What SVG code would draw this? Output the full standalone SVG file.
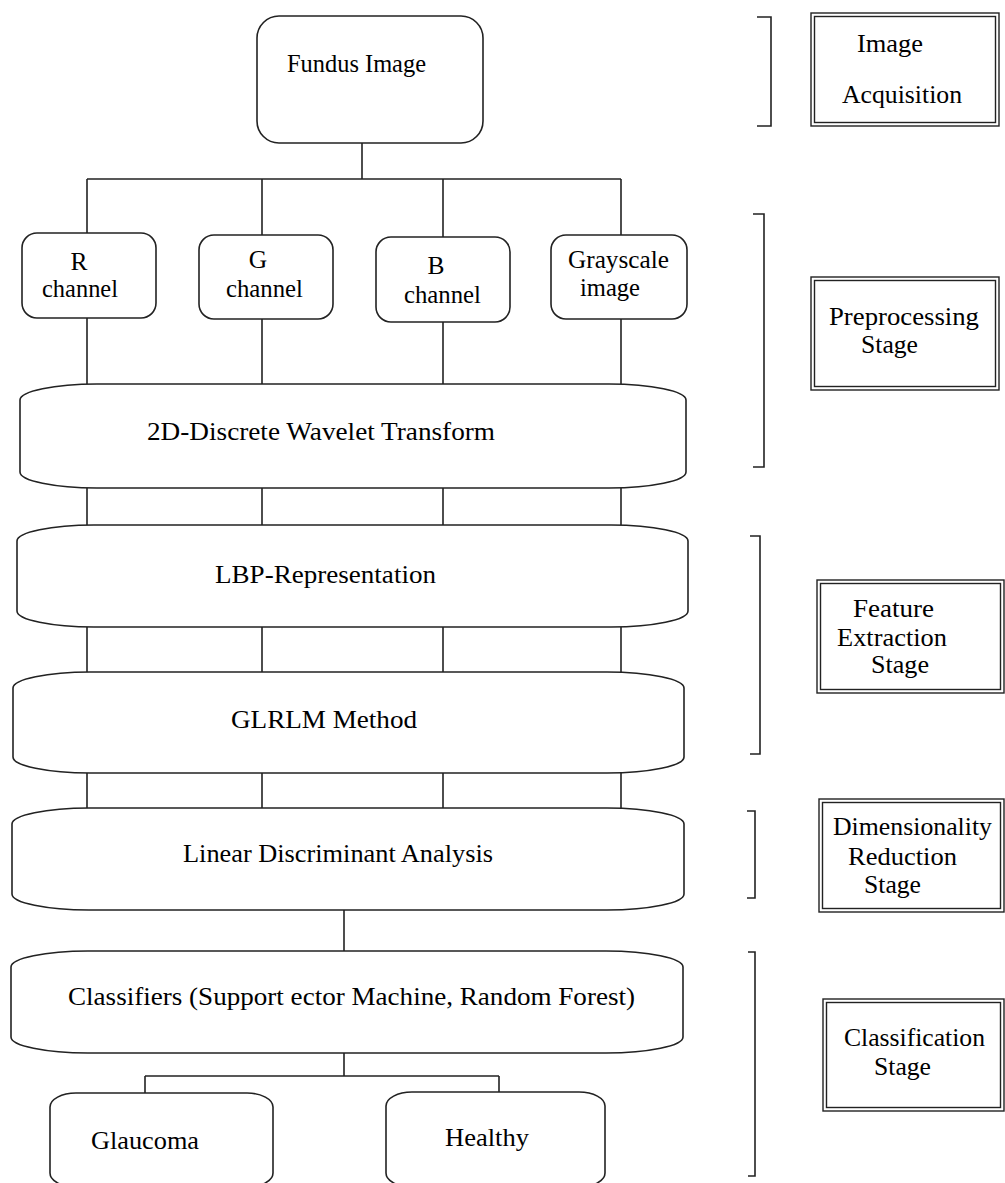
<svg xmlns="http://www.w3.org/2000/svg" width="1005" height="1183" viewBox="0 0 1005 1183">
  <style>
    .box { fill: #ffffff; stroke: #222222; stroke-width: 1.6; }
    .frame { fill: none; stroke: #222222; stroke-width: 1.4; }
    .wire { fill: none; stroke: #222222; stroke-width: 1.6; }
    .lbl { font-family: "Liberation Serif", "Times New Roman", serif; font-size: 25.5px; fill: #000000; }
    .mid { text-anchor: middle; }
  </style>

  <!-- connectors -->
  <g id="connectors" class="wire">
    <path d="M362 143 V179 M87 179 H621 M87 179 V233 M262 179 V235 M443 179 V237 M621 179 V235"/>
    <path d="M87 318 V384 M262 319 V384 M443 322 V384 M621 319 V384"/>
    <path d="M87 488 V525 M262 488 V525 M443 488 V525 M621 488 V525"/>
    <path d="M87 627 V672 M262 627 V672 M443 627 V672 M621 627 V672"/>
    <path d="M87 773 V808 M262 773 V808 M443 773 V808 M621 773 V808"/>
    <path d="M344 910 V951"/>
    <path d="M344 1053 V1076 M145 1076 H499 M145 1076 V1093 M499 1076 V1093"/>
  </g>

  <!-- pipeline nodes -->
  <g id="fundus">
    <rect class="box" x="257" y="16" width="226" height="127" rx="22" ry="22"/>
    <text class="lbl" x="287" y="72" textLength="139" lengthAdjust="spacingAndGlyphs">Fundus Image</text>
  </g>
  <g id="r-channel">
    <rect class="box" x="22" y="233" width="134" height="85" rx="15" ry="15"/>
    <text class="lbl mid" x="79" y="270">R</text>
    <text class="lbl" x="42" y="297" textLength="76" lengthAdjust="spacingAndGlyphs">channel</text>
  </g>
  <g id="g-channel">
    <rect class="box" x="199" y="235" width="134" height="84" rx="15" ry="15"/>
    <text class="lbl mid" x="258" y="268">G</text>
    <text class="lbl" x="226" y="297" textLength="77" lengthAdjust="spacingAndGlyphs">channel</text>
  </g>
  <g id="b-channel">
    <rect class="box" x="376" y="237" width="134" height="85" rx="15" ry="15"/>
    <text class="lbl mid" x="436" y="274">B</text>
    <text class="lbl" x="404" y="303" textLength="77" lengthAdjust="spacingAndGlyphs">channel</text>
  </g>
  <g id="grayscale">
    <rect class="box" x="551" y="235" width="136" height="84" rx="15" ry="15"/>
    <text class="lbl" x="568" y="268" textLength="101" lengthAdjust="spacingAndGlyphs">Grayscale</text>
    <text class="lbl" x="580" y="296" textLength="60" lengthAdjust="spacingAndGlyphs">image</text>
  </g>
  <g id="dwt">
    <rect class="box" x="20" y="384" width="666" height="104" rx="77" ry="16"/>
    <text class="lbl" x="147" y="440" textLength="348" lengthAdjust="spacingAndGlyphs">2D-Discrete Wavelet Transform</text>
  </g>
  <g id="lbp">
    <rect class="box" x="17" y="525" width="671" height="102" rx="77" ry="16"/>
    <text class="lbl" x="215" y="583" textLength="221" lengthAdjust="spacingAndGlyphs">LBP-Representation</text>
  </g>
  <g id="glrlm">
    <rect class="box" x="13" y="672" width="671" height="101" rx="77" ry="16"/>
    <text class="lbl" x="231" y="728" textLength="186" lengthAdjust="spacingAndGlyphs">GLRLM Method</text>
  </g>
  <g id="lda">
    <rect class="box" x="12" y="808" width="672" height="102" rx="77" ry="16"/>
    <text class="lbl" x="183" y="862" textLength="310" lengthAdjust="spacingAndGlyphs">Linear Discriminant Analysis</text>
  </g>
  <g id="classifiers">
    <rect class="box" x="11" y="951" width="672" height="102" rx="77" ry="16"/>
    <text class="lbl" x="68" y="1005" textLength="567" lengthAdjust="spacingAndGlyphs">Classifiers (Support ector Machine, Random Forest)</text>
  </g>
  <g id="glaucoma">
    <rect class="box" x="50" y="1093" width="223" height="94" rx="26" ry="14"/>
    <text class="lbl" x="91" y="1149" textLength="108" lengthAdjust="spacingAndGlyphs">Glaucoma</text>
  </g>
  <g id="healthy">
    <rect class="box" x="386" y="1092" width="219" height="95" rx="26" ry="14"/>
    <text class="lbl" x="445" y="1146" textLength="84" lengthAdjust="spacingAndGlyphs">Healthy</text>
  </g>

  <!-- stage brackets -->
  <g id="brackets" class="wire">
    <path d="M757 17 H771 V126 H757"/>
    <path d="M753 214 H764 V467 H753"/>
    <path d="M750 536 H760 V754 H750"/>
    <path d="M747 811 H755 V898 H747"/>
    <path d="M748 952 H755 V1176 H748"/>
  </g>

  <!-- stage labels -->
  <g id="stage-acquisition">
    <rect class="frame" x="811" y="13" width="188" height="113"/>
    <rect class="frame" x="814.5" y="16.5" width="181" height="106"/>
    <text class="lbl" x="857" y="52" textLength="66" lengthAdjust="spacingAndGlyphs">Image</text>
    <text class="lbl" x="842" y="103" textLength="120" lengthAdjust="spacingAndGlyphs">Acquisition</text>
  </g>
  <g id="stage-preprocessing">
    <rect class="frame" x="811" y="277" width="188" height="113"/>
    <rect class="frame" x="814.5" y="280.5" width="181" height="106"/>
    <text class="lbl" x="829" y="325" textLength="150" lengthAdjust="spacingAndGlyphs">Preprocessing</text>
    <text class="lbl" x="861" y="353" textLength="57" lengthAdjust="spacingAndGlyphs">Stage</text>
  </g>
  <g id="stage-feature">
    <rect class="frame" x="817" y="580" width="187" height="113"/>
    <rect class="frame" x="820.5" y="583.5" width="180" height="106"/>
    <text class="lbl" x="853" y="617" textLength="81" lengthAdjust="spacingAndGlyphs">Feature</text>
    <text class="lbl" x="837" y="646" textLength="110" lengthAdjust="spacingAndGlyphs">Extraction</text>
    <text class="lbl" x="871" y="673" textLength="58" lengthAdjust="spacingAndGlyphs">Stage</text>
  </g>
  <g id="stage-dimensionality">
    <rect class="frame" x="819" y="799" width="185" height="113"/>
    <rect class="frame" x="822.5" y="802.5" width="178" height="106"/>
    <text class="lbl" x="833" y="835" textLength="159" lengthAdjust="spacingAndGlyphs">Dimensionality</text>
    <text class="lbl" x="848" y="865" textLength="109" lengthAdjust="spacingAndGlyphs">Reduction</text>
    <text class="lbl" x="864" y="893" textLength="57" lengthAdjust="spacingAndGlyphs">Stage</text>
  </g>
  <g id="stage-classification">
    <rect class="frame" x="823" y="999" width="181" height="112"/>
    <rect class="frame" x="826.5" y="1002.5" width="174" height="105"/>
    <text class="lbl" x="844" y="1046" textLength="141" lengthAdjust="spacingAndGlyphs">Classification</text>
    <text class="lbl" x="874" y="1075" textLength="57" lengthAdjust="spacingAndGlyphs">Stage</text>
  </g>
</svg>
